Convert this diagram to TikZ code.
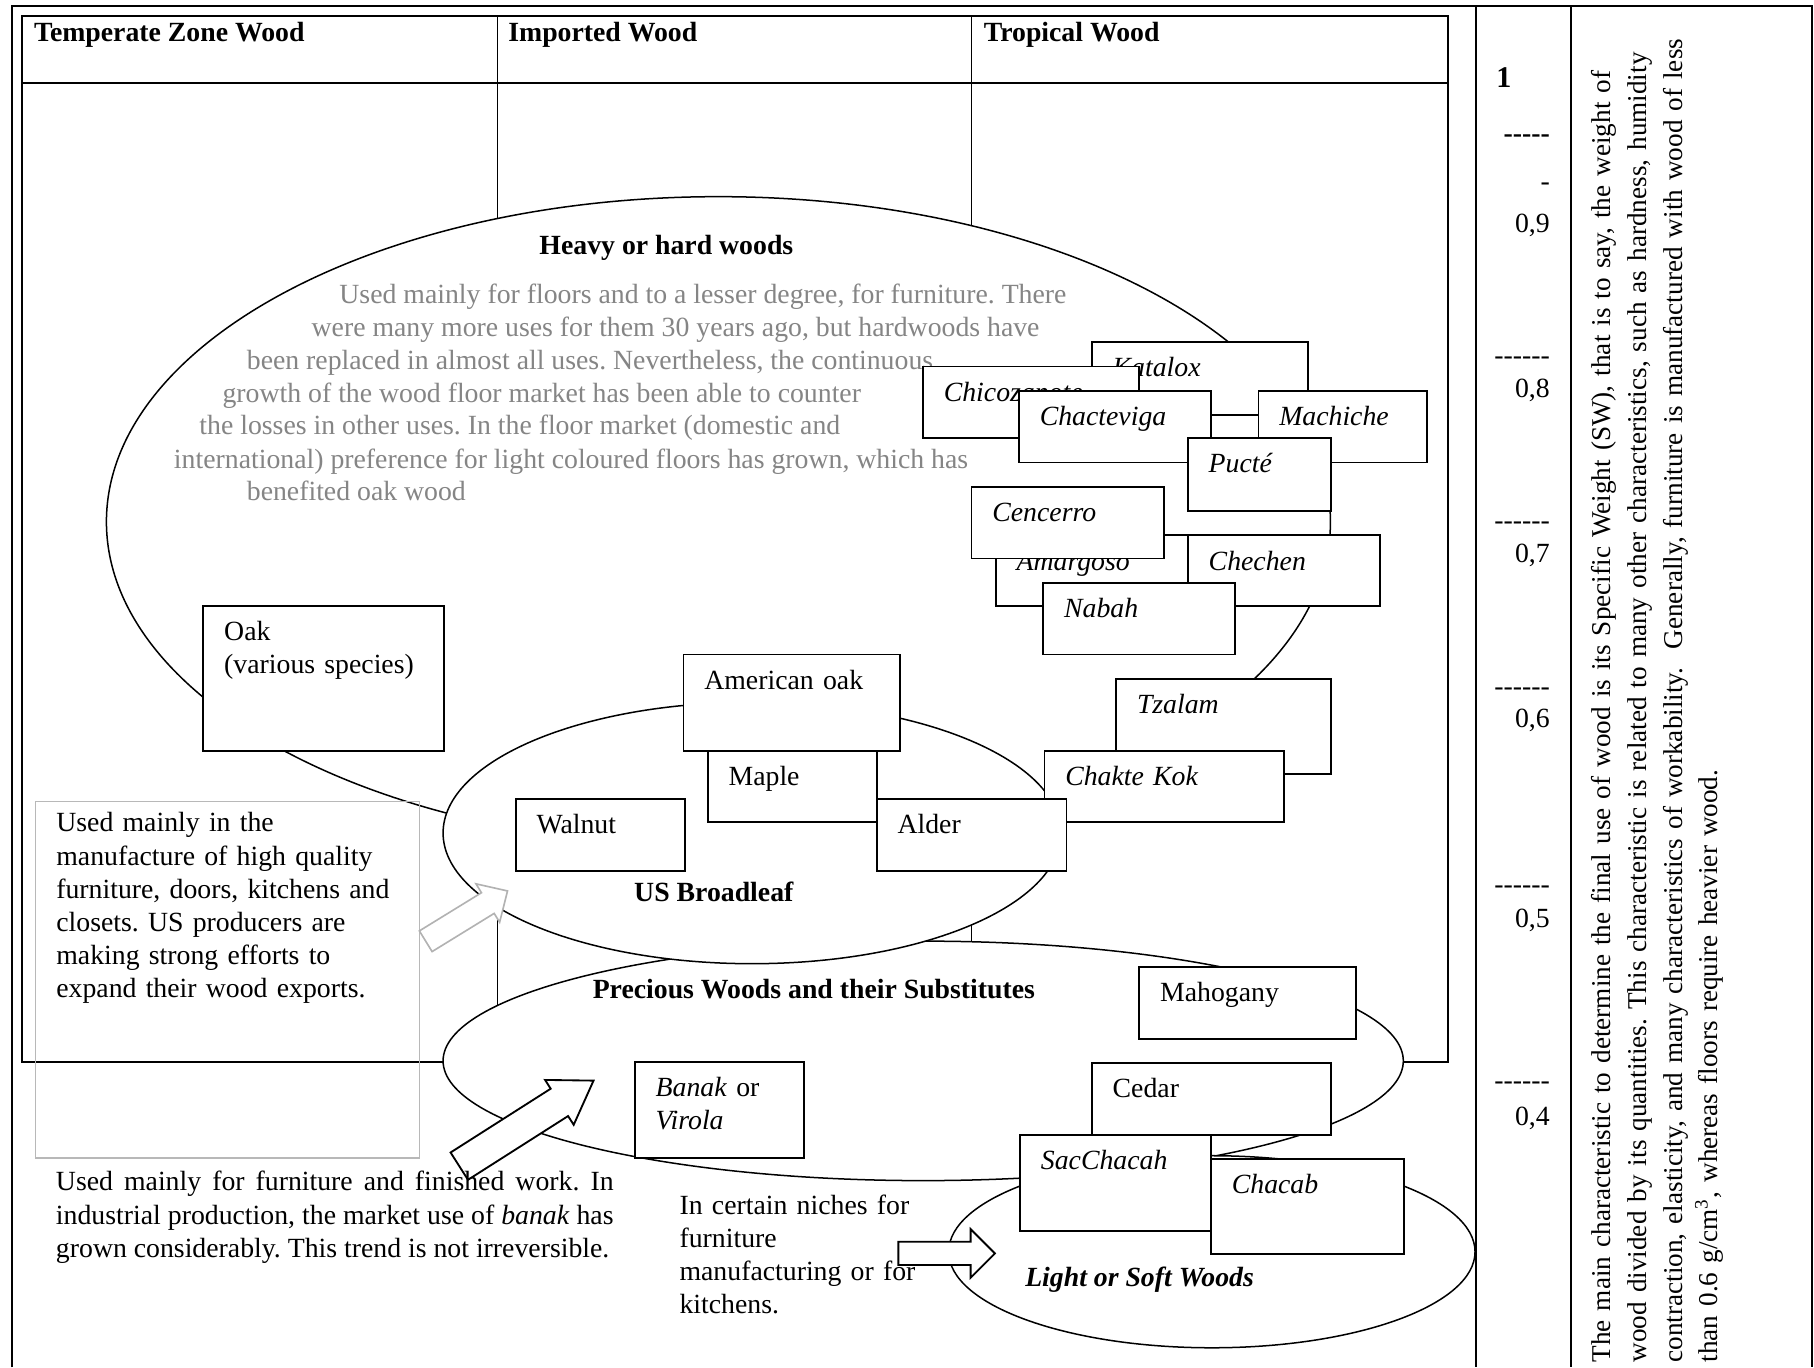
\documentclass[tikz,border=0pt]{standalone}
\usepackage{fontspec}
\setmainfont{Liberation Serif}
\usetikzlibrary{shapes.geometric}
\frenchspacing

\newcommand{\bodysize}{\fontsize{12}{14.3}\selectfont}
\newcommand{\woodbox}[7][]{%
  \node[woodbox,#1,text width={(#5-#3)*0.5pt-18pt},text depth={(#6-#4)*0.5pt-15pt}] (#2) at (#3,#4) {#7};}

\tikzset{
  framel/.style={line width=0.9pt},
  colline/.style={line width=0.45pt},
  woodbox/.style={draw,fill=white,line width=0.8pt,rectangle,anchor=north west,
    inner xsep=9pt,inner ysep=0pt,text height=15pt,align=left,font=\bodysize},
  zone/.style={draw,fill=white,ellipse,line width=0.65pt,inner sep=0pt},
  txt/.style={inner sep=0pt,anchor=base west,font=\bodysize},
  greytxt/.style={txt,text=black!48},
  hdr/.style={txt,font=\bodysize\bfseries},
  ttl/.style={inner sep=0pt,anchor=base,font=\bodysize\bfseries},
  scalelbl/.style={inner sep=0pt,anchor=base east,font=\bodysize},
  pics/blockarrow/.style args={#1/#2/#3/#4}{code={%
    \path[pic actions] (0,{-#2/2}) -- ({#1-#4},{-#2/2}) -- ({#1-#4},{-#3/2}) -- (#1,0)
      -- ({#1-#4},{#3/2}) -- ({#1-#4},{#2/2}) -- (0,{#2/2}) -- cycle;}}
}

\begin{document}
\begin{tikzpicture}[x=0.5pt,y=-0.5pt]
    \useasboundingbox (0,0) rectangle (1568,1182);

    % frame and table
    \draw[framel] (10,1182) -- (10,5) -- (1566,5) -- (1566,1182);
    \draw[framel] (1276,5) -- (1276,1182);
    \draw[framel] (1358,5) -- (1358,1182);
    \draw[framel] (19,14) rectangle (1252,918);
    \draw[framel] (19,72) -- (1252,72);
    \draw[colline] (430,14) -- (430,918);
    \draw[colline] (840,14) -- (840,918);

    \node[hdr] (temperate) at (29,36) {Temperate Zone Wood};
    \node[hdr] (imported) at (439,36) {Imported Wood};
    \node[hdr] (tropical) at (850,36) {Tropical Wood};

    \node[zone,minimum width=529pt,minimum height=281pt] (heavy) at (621,451) {};
    \node[ttl] (heavyttl) at (576,220) {Heavy or hard woods};
    \node[greytxt] (hw1) at (293,262) {Used mainly for floors and to a lesser degree, for furniture. There};
    \node[greytxt] (hw2) at (269,291) {were many more uses for them 30 years ago, but hardwoods have};
    \node[greytxt] (hw3) at (213,319) {been replaced in almost all uses. Nevertheless, the continuous};
    \node[greytxt] (hw4) at (192,348) {growth of the wood floor market has been able to counter};
    \node[greytxt] (hw5) at (172,376) {the losses in other uses. In the floor market (domestic and};
    \node[greytxt] (hw6) at (150,405) {international) preference for light coloured floors has grown, which has};
    \node[greytxt] (hw7) at (213,433) {benefited oak wood};

    \woodbox{oak}{175}{523}{383}{648}{Oak\\(various species)}
    \woodbox{katalox}{943}{295}{1130}{358}{\textit{Katalox}}
    \woodbox{chicozapote}{797}{316}{984}{378}{\textit{Chicozapote}}
    \woodbox{chacteviga}{880}{337}{1046}{399}{\textit{Chacteviga}}
    \woodbox{machiche}{1087}{337}{1233}{399}{\textit{Machiche}}
    \woodbox{pucte}{1026}{378}{1150}{441}{\textit{Pucté}}
    \woodbox{amargoso}{860}{462}{1026}{523}{\textit{Amargoso}}
    \woodbox{cencerro}{839}{420}{1005}{482}{\textit{Cencerro}}
    \woodbox{chechen}{1026}{462}{1192}{523}{\textit{Chechen}}
    \woodbox{nabah}{901}{503}{1067}{565}{\textit{Nabah}}
    \woodbox{tzalam}{964}{586}{1150}{668}{\textit{Tzalam}}

    \node[zone,minimum width=415pt,minimum height=103.5pt] (precious) at (798,917) {};
    \node[zone,minimum width=267pt,minimum height=113pt] (usbroad) at (650,720) {};
    \node[zone,minimum width=227.5pt,minimum height=83pt] (light) at (1047.5,1082) {};

    \woodbox{chaktekok}{902}{648}{1109}{710}{\textit{Chakte Kok}}
    \woodbox{amoak}{590}{565}{777}{648}{American oak}
    \woodbox{maple}{611}{648}{757}{710}{Maple}
    \woodbox{walnut}{445}{690}{591}{752}{Walnut}
    \woodbox{alder}{757}{690}{921}{752}{Alder}
    \woodbox{mahogany}{984}{835}{1171}{897}{Mahogany}
    \woodbox{banak}{548}{917}{694}{1000}{\textit{Banak} or\\\textit{Virola}}
    \woodbox{cedar}{943}{918}{1150}{980}{Cedar}
    \woodbox{sacchacah}{881}{980}{1046}{1063}{\textit{SacChacah}}
    \woodbox{chacab}{1046}{1001}{1213}{1083}{\textit{Chacab}}

    \node[ttl] (usttl) at (617,779) {US Broadleaf};
    \node[ttl] (precttl) at (703.5,863) {Precious Woods and their Substitutes};
    \node[ttl,font=\bodysize\bfseries\itshape] (lightttl) at (985,1112) {Light or Soft Woods};

    \node[woodbox,draw=black!28,fill=none,line width=0.7pt,text height=13.2pt,
      text width=148pt,text depth=140.8pt] (usnote) at (30,692)
      {Used mainly in the\\manufacture of high quality\\furniture, doors, kitchens and\\closets. US producers are\\making strong efforts to\\expand their wood exports.};

    \pic[rotate=31.6,draw=black!30,fill=white,line width=0.7pt] (usarrow) at (368,813.6) {blockarrow=83/21/39/20};
    \pic[rotate=32.5,draw=black,fill=white,line width=0.8pt] (banakarrow) at (397,1008) {blockarrow=137.6/28/46/35};
    \pic[draw=black,fill=white,line width=0.8pt] (nichearrow) at (776.5,1083.4) {blockarrow=83.5/20/42/21};

    \node[txt,text width=241pt,align=justify] (banaknote) at (48,1029.4)
      {Used mainly for furniture and finished work. In\linebreak industrial production, the market use of \textit{banak} has\linebreak grown considerably. This trend is not irreversible.};
    \node[txt,text width=112pt,align=left] (nichenote) at (587,1049.4)
      {In certain niches for\\furniture\\manufacturing or for\\kitchens.};

    % specific weight scale
    \node[txt,font=\fontsize{13}{15}\selectfont\bfseries] (one) at (1293,76) {1};
    \node[scalelbl,font=\bodysize\bfseries] (dashone) at (1340,123) {-{}-{}-{}-{}-};
    \node[scalelbl] (dashnine) at (1340,165) {-};
    \node[scalelbl] (nine) at (1340,201) {0,9};
    \foreach \v/\yd/\yn in {8/310/336,7/453/478,6/596/621,5/767/794,4/937/965}{
        \node[scalelbl] (dash\v) at (1340,\yd+5) {-{}-{}-{}-{}-{}-};
        \node[scalelbl] (val\v) at (1340,\yn+8) {0,\v};
    }

    \node[txt,rotate=90,text width=620pt,align=left,font=\fontsize{11.75}{15.4}\selectfont] (swnote) at (1392.4,1178)
      {The main characteristic to determine the final use of wood is its Specific Weight (SW), that is to say, the weight of\\
       wood divided by its quantities. This characteristic is related to many other characteristics, such as hardness, humidity\\
       contraction, elasticity, and many characteristics of workability.\ \ Generally, furniture is manufactured with wood of less\\
       than 0.6 g/cm\textsuperscript{3}, whereas floors require heavier wood.};
\end{tikzpicture}
\end{document}
